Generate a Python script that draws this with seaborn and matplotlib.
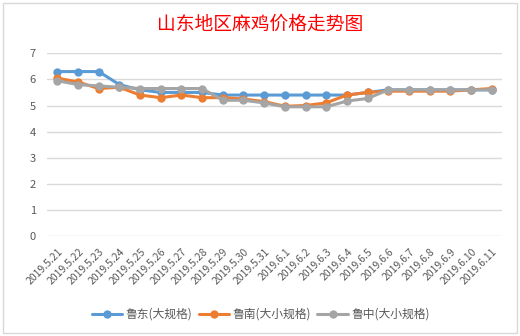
import matplotlib
matplotlib.use("Agg")
import matplotlib.pyplot as plt
import matplotlib.transforms as mtransforms
import seaborn as sns
import pandas as pd

dates = ["2019.5.21", "2019.5.22", "2019.5.23", "2019.5.24", "2019.5.25", "2019.5.26",
         "2019.5.27", "2019.5.28", "2019.5.29", "2019.5.30", "2019.5.31", "2019.6.1",
         "2019.6.2", "2019.6.3", "2019.6.4", "2019.6.5", "2019.6.6", "2019.6.7",
         "2019.6.8", "2019.6.9", "2019.6.10", "2019.6.11"]
ludong = [6.3, 6.3, 6.3, 5.8, 5.6, 5.5, 5.5, 5.5, 5.4, 5.4, 5.4, 5.4,
          5.4, 5.4, 5.4, 5.5, 5.6, 5.6, 5.6, 5.6, 5.6, 5.6]
lunan = [6.05, 5.9, 5.65, 5.7, 5.4, 5.3, 5.4, 5.3, 5.3, 5.25, 5.15, 4.97,
         5.0, 5.1, 5.4, 5.5, 5.55, 5.55, 5.55, 5.55, 5.6, 5.65]
luzhong = [5.95, 5.8, 5.75, 5.7, 5.65, 5.65, 5.65, 5.65, 5.2, 5.2, 5.1, 4.95,
           4.95, 4.95, 5.17, 5.27, 5.6, 5.6, 5.6, 5.6, 5.6, 5.6]
series_names = ["鲁东(大规格)", "鲁南(大小规格)", "鲁中(大小规格)"]
colors = ["#5B9BD5", "#ED7D31", "#A5A5A5"]
yticks = [0, 1, 2, 3, 4, 5, 6, 7]
title = "山东地区麻鸡价格走势图"

rows = []
for name, vals in zip(series_names, [ludong, lunan, luzhong]):
    for d, v in zip(dates, vals):
        rows.append({"date": d, "price": v, "series": name})
df = pd.DataFrame(rows)

sns.set_theme(style="white")
plt.rcParams['font.family'] = ['Noto Sans CJK SC', 'DejaVu Sans']

fig = plt.figure(figsize=(5.2, 3.36), dpi=100)
ax = fig.add_axes([47/520, 1-236/336, (502-47)/520, (236-53.3)/336])

sns.lineplot(data=df, x="date", y="price", hue="series", palette=colors,
             marker="o", markersize=6, markeredgewidth=0, linewidth=2.2,
             sort=False, ax=ax, legend=True)

ax.set_xlim(-0.5, len(dates) - 0.5)
ax.set_ylim(0, 7)
ax.set_yticks(yticks)
ax.grid(axis="y", color="#D9D9D9", linewidth=1)
for s in ax.spines.values():
    s.set_visible(False)
ax.set_xlabel("")
ax.set_ylabel("")
ax.tick_params(axis="y", labelsize=8, colors="#595959", length=0, pad=8)
ax.tick_params(axis="x", labelsize=7.5, colors="#595959", length=0, pad=10)
ax.set_xticks(range(len(dates)))
ax.set_xticklabels(dates, rotation=45, ha="right", va="center", rotation_mode="anchor")
offset = mtransforms.ScaledTranslation(4/100, 0, fig.dpi_scale_trans)
for lab in ax.get_xticklabels():
    lab.set_transform(lab.get_transform() + offset)

ax.legend(loc="upper center", bbox_to_anchor=(0.47, -0.335), ncol=3, frameon=False,
          fontsize=8.5, handlelength=2.6, handletextpad=0.3, columnspacing=0.5,
          labelcolor="#595959")

fig.text(0.5, 1 - 24/336, title, color="#FF0000", fontsize=13.5, ha="center", va="center")

fig.patches.append(plt.Rectangle((3/520, 3/336), 514/520, 330/336, transform=fig.transFigure,
                                 fill=False, edgecolor="#D9D9D9", linewidth=1))

fig.savefig("out.png", dpi=100)
